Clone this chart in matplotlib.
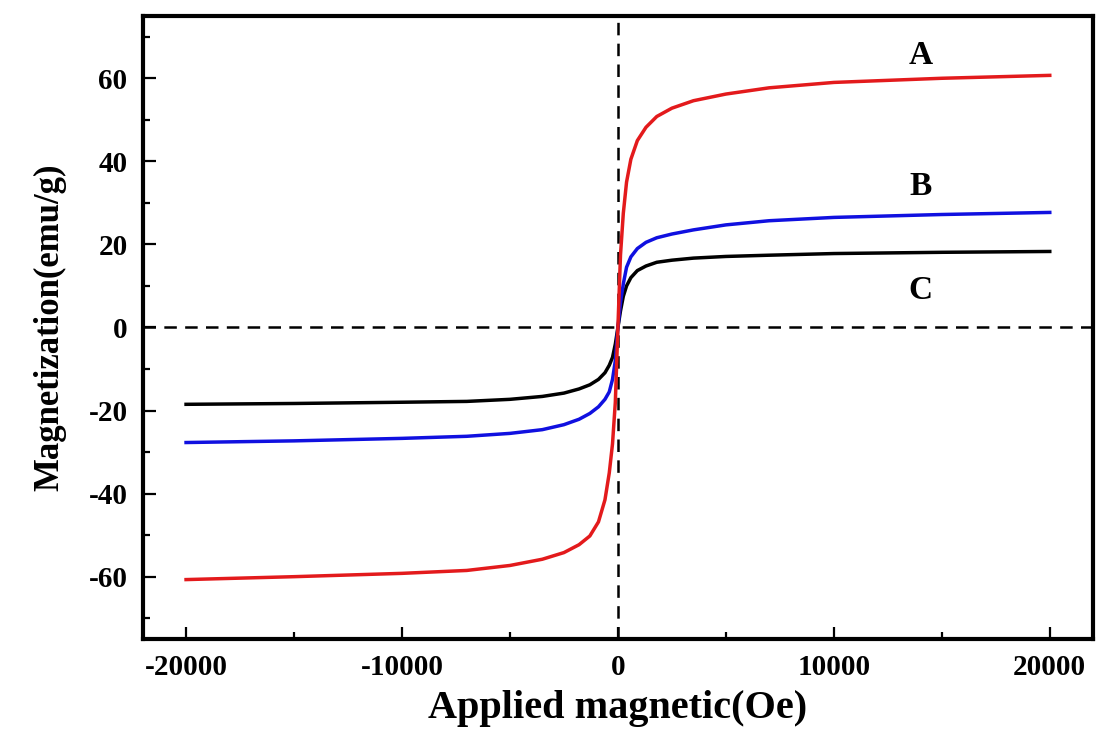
import matplotlib
matplotlib.use("Agg")
import matplotlib.pyplot as plt
from matplotlib.ticker import MultipleLocator

plt.rcParams['font.family'] = ['Liberation Serif', 'DejaVu Serif']
plt.rcParams['font.weight'] = 'bold'
plt.rcParams['axes.unicode_minus'] = False
plt.rcParams['lines.scale_dashes'] = False

# applied field (Oe) and magnetization (emu/g)
field = [-20000, -15000, -10000, -7000, -5000, -3500, -2500, -1800, -1300, -900,
         -600, -400, -250, -120, 0, 120, 250, 400, 600, 900, 1300, 1800, 2500,
         3500, 5000, 7000, 10000, 15000, 20000]
mag_A = [-60.7, -60.0, -59.2, -58.5, -57.3, -55.8, -54.2, -52.3, -50.2, -46.8,
         -41.5, -35.0, -28.0, -18.0, 0.0, 17.5, 27.5, 35.0, 40.5, 45.0, 48.2,
         50.8, 52.8, 54.6, 56.2, 57.7, 59.0, 60.0, 60.7]
mag_B = [-27.7, -27.3, -26.7, -26.2, -25.5, -24.6, -23.4, -22.1, -20.7, -19.1,
         -17.3, -15.5, -12.5, -8.0, 0.0, 6.0, 10.5, 14.5, 17.0, 19.0, 20.5,
         21.6, 22.5, 23.5, 24.7, 25.7, 26.5, 27.2, 27.7]
mag_C = [-18.5, -18.3, -18.0, -17.8, -17.3, -16.6, -15.8, -14.8, -13.8, -12.5,
         -10.9, -9.1, -7.2, -4.0, 0.0, 4.0, 7.5, 10.0, 12.0, 13.7, 14.8,
         15.7, 16.2, 16.7, 17.1, 17.4, 17.8, 18.1, 18.3]

labels = ['A', 'B', 'C']
label_x = [14000, 14000, 14000]
label_y = [65.5, 34.0, 9.0]

fig = plt.figure(figsize=(10.99, 7.43), dpi=100)
ax = fig.add_axes([0.130, 0.140, 0.8645, 0.8385])

ax.axhline(0, color='black', lw=1.8, dashes=(9, 6), zorder=1)
ax.axvline(0, color='black', lw=1.8, dashes=(9, 6), zorder=1)

ax.plot(field, mag_C, color='black', lw=2.5)
ax.plot(field, mag_B, color='#1010e0', lw=2.5)
ax.plot(field, mag_A, color='#e31a1c', lw=2.5)

for s, x, y in zip(labels, label_x, label_y):
    ax.text(x, y, s, fontsize=24, fontweight='bold', ha='center', va='center')

ax.set_xlim(-22000, 22000)
ax.set_ylim(-75, 75)
ax.xaxis.set_major_locator(MultipleLocator(10000))
ax.xaxis.set_minor_locator(MultipleLocator(5000))
ax.yaxis.set_major_locator(MultipleLocator(20))
ax.yaxis.set_minor_locator(MultipleLocator(10))

ax.tick_params(which='both', direction='in', top=False, right=False,
               width=1.6, labelsize=21)
ax.tick_params(which='major', length=9, pad=11)
ax.tick_params(which='minor', length=5)
for sp in ax.spines.values():
    sp.set_linewidth(3)

ax.set_xlabel('Applied magnetic(Oe)', fontsize=29, fontweight='bold', labelpad=6)
ax.set_ylabel('Magnetization(emu/g)', fontsize=25, fontweight='bold', labelpad=16)

fig.savefig('out.png', dpi=100)
